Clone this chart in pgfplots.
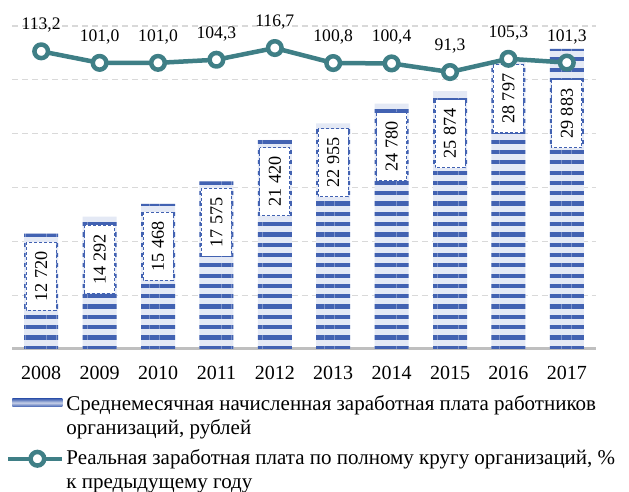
\documentclass[border=0pt]{standalone}
\usepackage{fontspec}
\setmainfont{Liberation Serif}
\usepackage{pgfplots}
\pgfplotsset{compat=1.18}
\usetikzlibrary{patterns.meta}

\definecolor{barblue}{HTML}{4262B2}
\definecolor{barlight}{HTML}{E4E9F5}
\definecolor{wageteal}{HTML}{3F7F86}
\definecolor{gridgray}{HTML}{D9D9D9}
\definecolor{basegray}{HTML}{BFBFBF}

\pgfkeys{/pgf/number format/assume math mode=true}

\begin{document}
\begin{tikzpicture}
\pgfplotsset{
  common/.style={
    scale only axis, width=292pt, height=161.5pt,
    xmin=-0.5, xmax=9.5,
  },
}
% bars: average monthly wage, rubles
\begin{axis}[
  common,
  ymin=2000, ymax=32000,
  scaled y ticks=false,
  axis line style={draw=none},
  major tick length=0pt,
  xtick={0,...,9},
  xticklabels={2008,2009,2010,2011,2012,2013,2014,2015,2016,2017},
  xticklabel style={font=\fontsize{10}{12}\selectfont, yshift=-5pt},
  ytick={7000,12000,17000,22000,27000,32000},
  yticklabels={},
  ymajorgrids,
  grid style={gridgray, dash pattern=on 3pt off 2pt, line width=0.6pt},
  extra y ticks={2000},
  extra y tick labels={},
  extra y tick style={ymajorgrids=true, grid style={solid, basegray, line width=1.5pt}},
  legend style={draw=none, fill=none, at={(0,-0.131)}, anchor=north west,
    inner sep=0pt, row sep=2pt, column sep=0pt,
    font=\fontsize{10.5}{12}\selectfont, cells={anchor=west, align=left}},
]
\addplot[forget plot, ybar, bar width=17pt, fill=barlight, draw=none,
  postaction={pattern={Lines[angle=0,distance=5.15pt,line width=2.1pt]}, pattern color=barblue}]
coordinates {(0,12720) (1,14292) (2,15468) (3,17575) (4,21420)
             (5,22955) (6,24780) (7,25874) (8,28797) (9,29883)};

% value boxes inside the bars
\addplot[forget plot, draw=none, mark=none, nodes near coords, point meta=explicit symbolic,
  nodes near coords style={anchor=center, rotate=90, fill=white, draw=barblue,
    dash pattern=on 1.5pt off 1pt, line width=0.5pt, minimum width=34pt,
    minimum height=15pt, inner sep=0pt, text=black, font=\fontsize{9.1}{11}\selectfont}]
coordinates {(0,8759)[12 720] (1,10333)[14 292] (2,11537)[15 468] (3,13759)[17 575]
             (4,17556)[21 420] (5,19315)[22 955] (6,20796)[24 780] (7,22000)[25 874]
             (8,25241)[28 797] (9,23852)[29 883]};

\addlegendimage{legend image code/.code={
    \pgfpathrectangle{\pgfpoint{0pt}{-10pt}}{\pgfpoint{25pt}{20pt}}
    \pgfusepath{use as bounding box}
    \shade[overlay, draw=none, top color=barblue, bottom color=barblue, middle color=barblue!30]
      (0pt,5pt) rectangle (25pt,9pt);
  }}
\addlegendentry{Среднемесячная начисленная заработная плата работников\\организаций, рублей}

\addlegendimage{legend image code/.code={
    \pgfpathrectangle{\pgfpoint{0pt}{-10pt}}{\pgfpoint{25pt}{20pt}}
    \pgfusepath{use as bounding box}
    \draw[overlay, wageteal, line width=2.25pt] (-2pt,6pt) -- (25pt,6pt);
    \draw[overlay, wageteal, line width=2.25pt, fill=white] (12.5pt,6pt) circle (3.4pt);
  }}
\addlegendentry{Реальная заработная плата по полному кругу организаций, \%\\к предыдущему году}
\end{axis}

% line: real wage, % of previous year
\begin{axis}[
  common, clip=false, hide axis,
  ymin=-201.7, ymax=140,
  /pgf/number format/fixed, /pgf/number format/fixed zerofill,
  /pgf/number format/precision=1, /pgf/number format/use comma,
]
\addplot[wageteal, line width=2.25pt, line join=round,
  mark=*, mark size=3.4pt, mark options={fill=white, draw=wageteal, line width=2.25pt},
  nodes near coords, point meta=y,
  nodes near coords style={anchor=center, yshift=13pt, text=black,
    font=\fontsize{8.8}{10}\selectfont}]
coordinates {(0,113.2) (1,101.0) (2,101.0) (3,104.3) (4,116.7)
             (5,100.8) (6,100.4) (7,91.3) (8,105.3) (9,101.3)};
\end{axis}

\pgfresetboundingbox
\path (-6pt,-71.5pt) rectangle (308.5pt,174.5pt);
\end{tikzpicture}
\end{document}
